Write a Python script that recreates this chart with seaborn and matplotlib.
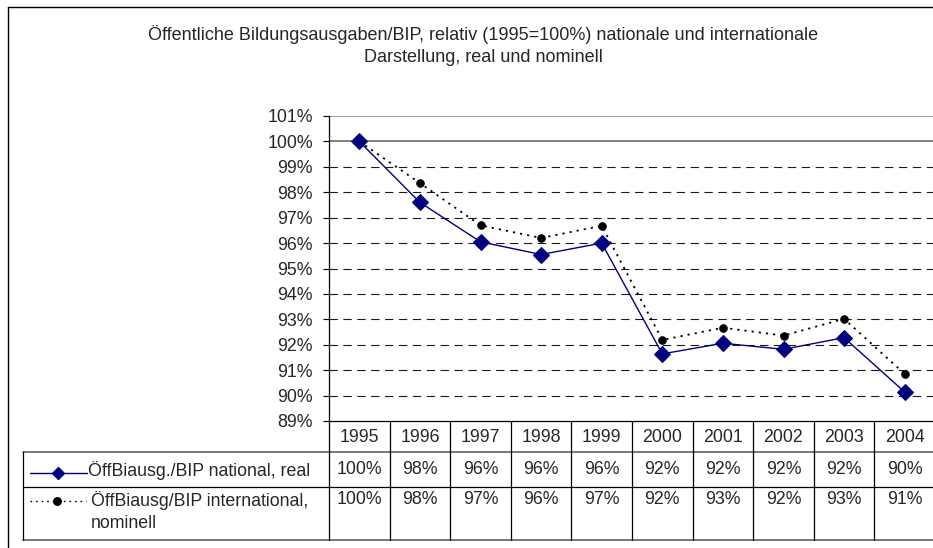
import matplotlib
matplotlib.use("Agg")
import matplotlib.pyplot as plt
from matplotlib.lines import Line2D
import seaborn as sns
import pandas as pd

# ---- data ----
years = ["1995", "1996", "1997", "1998", "1999", "2000", "2001", "2002", "2003", "2004"]
national_real = [100.0, 97.6, 96.05, 95.55, 96.0, 91.64, 92.06, 91.82, 92.28, 90.14]
international_nominal = [100.0, 98.36, 96.7, 96.2, 96.68, 92.19, 92.67, 92.36, 93.02, 90.85]
series_names = ["ÖffBiausg./BIP national, real", "ÖffBiausg/BIP international,\nnominell"]
y_ticks = [89, 90, 91, 92, 93, 94, 95, 96, 97, 98, 99, 100, 101]
title = ("Öffentliche Bildungsausgaben/BIP, relativ (1995=100%) nationale und internationale\n"
         "Darstellung, real und nominell")

sns.set_style("white")
plt.rcParams["font.family"] = ["Liberation Sans", "DejaVu Sans"]
FS = 12.8
FS_T = 13.0

W, H = 933, 548
fig = plt.figure(figsize=(W / 100, H / 100), dpi=100)


def fx(px):
    return px / W


def fy(py):
    return 1 - py / H


ax = fig.add_axes([fx(329), fy(421), 606 / W, (421 - 116) / H])
ax.set_xlim(-0.5, len(years) - 0.5)
ax.set_ylim(y_ticks[0], y_ticks[-1])

df = pd.DataFrame({"pos": list(range(len(years))),
                   "nat": national_real, "int": international_nominal})

# grid lines
for t in y_ticks[1:]:
    if t >= 100:
        ax.axhline(t, color="#6a6a6a" if t == 100 else "#8c8c8c", lw=1.2, zorder=0)
    else:
        ax.axhline(t, color="#1a1a1a", lw=0.8, ls=(0, (7.5, 5)), zorder=0)

sns.lineplot(data=df, x="pos", y="int", ax=ax, color="black", lw=1.3,
             linestyle=(0, (1.2, 2.8)), marker="o", markersize=5.4,
             markeredgecolor="black", markerfacecolor="black", zorder=3)
sns.lineplot(data=df, x="pos", y="nat", ax=ax, color="#000080", lw=1.0,
             marker="D", markersize=7.8, markeredgecolor="#000080",
             markerfacecolor="#000080", zorder=4)

ax.set_xlabel("")
ax.set_ylabel("")
ax.set_xticks([])
ax.set_yticks(y_ticks)
ax.set_yticklabels([f"{t}%" for t in y_ticks], fontsize=FS)
ax.tick_params(axis="y", direction="out", length=4.5, width=0.8, pad=7, color="black", left=True)
for s in ["top", "right"]:
    ax.spines[s].set_visible(False)
for s in ["left", "bottom"]:
    ax.spines[s].set_color("black")
    ax.spines[s].set_linewidth(0.9)

fig.suptitle(title, x=fx(483), y=fy(25), fontsize=FS_T, va="top", linespacing=1.42)


# ---- data table ----
def xfig(xd):
    return fig.transFigure.inverted().transform(ax.transData.transform((xd, 95)))[0]


def hline(y, x0, x1, color="black", lw=0.9):
    fig.add_artist(Line2D([x0, x1], [fy(y), fy(y)], color=color, lw=lw, transform=fig.transFigure))


def vline(x, y0, y1, color="black", lw=0.9):
    fig.add_artist(Line2D([x, x], [fy(y0), fy(y1)], color=color, lw=lw, transform=fig.transFigure))


right = xfig(len(years) - 0.5)
y_head, y_r1, y_r2, y_bot = 421, 452, 486.5, 539.5
hline(y_r1, fx(23), right, color="#6e6e6e", lw=1.3)
hline(y_r2, fx(23), right)
hline(y_bot, fx(23), right, color="#6e6e6e", lw=1.3)
vline(fx(23), y_r1, y_bot)
vline(fx(329), y_head, y_bot)
for i in range(1, len(years) + 1):
    vline(xfig(i - 0.5), y_head, y_bot)

for i, yr in enumerate(years):
    xc = xfig(i)
    fig.text(xc, fy(437), yr, ha="center", va="center", fontsize=FS)
    fig.text(xc, fy(470), f"{round(national_real[i])}%", ha="center", va="center", fontsize=FS)
    fig.text(xc, fy(500), f"{round(international_nominal[i])}%", ha="center", va="center", fontsize=FS)

# legend keys
fig.add_artist(Line2D([fx(30), fx(87)], [fy(472.5), fy(472.5)], color="#000080", lw=1.0,
                      transform=fig.transFigure))
fig.add_artist(Line2D([fx(58)], [fy(472.5)], marker="D", markersize=6.5, color="#000080",
                      transform=fig.transFigure))
fig.add_artist(Line2D([fx(30), fx(86)], [fy(500.5), fy(500.5)], color="black", lw=1.0,
                      ls=(0, (1.2, 2.8)), transform=fig.transFigure))
fig.add_artist(Line2D([fx(57)], [fy(500.5)], marker="o", markersize=5.4, color="black",
                      transform=fig.transFigure))
fig.text(fx(88), fy(470), series_names[0], ha="left", va="center", fontsize=FS)
fig.text(fx(91), fy(491), series_names[1], ha="left", va="top", fontsize=FS, linespacing=1.36)

# outer frame
fig.add_artist(Line2D([fx(8), fx(8)], [fy(7), 0], color="black", lw=1.0, transform=fig.transFigure))
fig.add_artist(Line2D([fx(8), 1], [fy(7), fy(7)], color="black", lw=1.0, transform=fig.transFigure))

fig.savefig("out.png", dpi=100)
